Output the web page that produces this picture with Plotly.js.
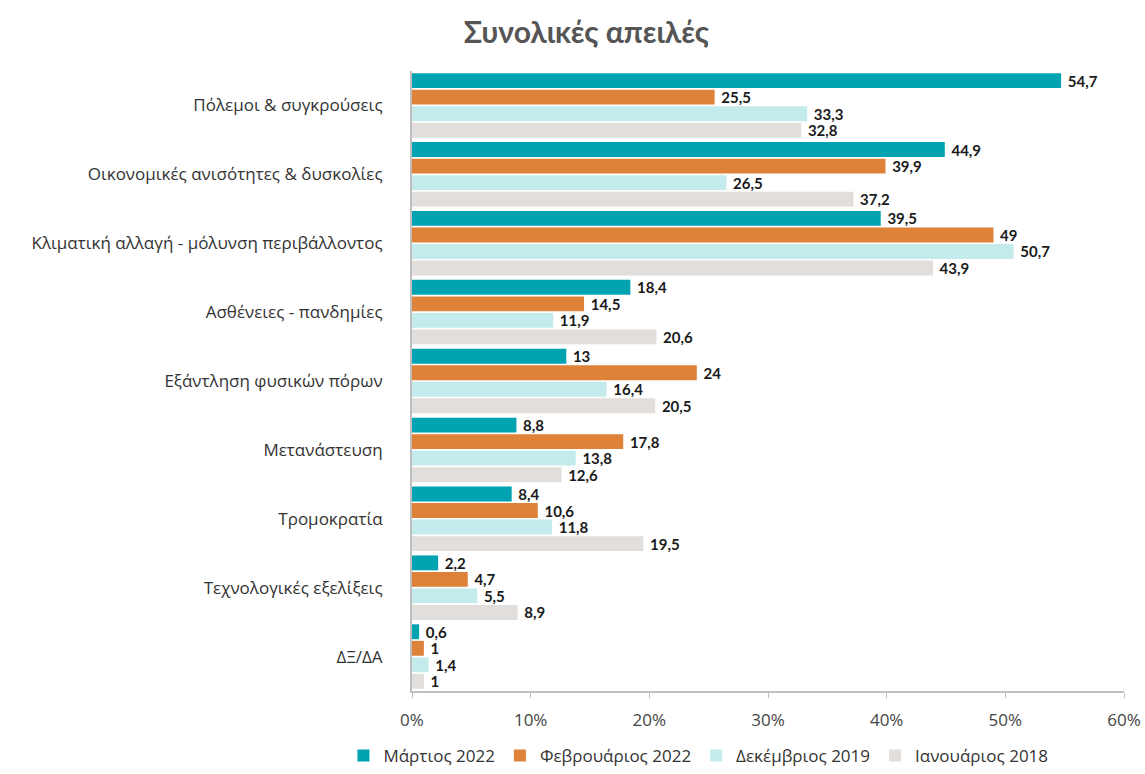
<!DOCTYPE html>
<html>
<head>
<meta charset="utf-8">
<script src="https://cdn.plot.ly/plotly-3.0.1.min.js"></script>
<style>html,body{margin:0;padding:0;background:#fff;}#chart{width:1145px;height:774px;}</style>
</head>
<body>
<div id="chart"></div>
<script>
const categories = [
  "Πόλεμοι & συγκρούσεις",
  "Οικονομικές ανισότητες & δυσκολίες",
  "Κλιματική αλλαγή - μόλυνση περιβάλλοντος",
  "Ασθένειες - πανδημίες",
  "Εξάντληση φυσικών πόρων",
  "Μετανάστευση",
  "Τρομοκρατία",
  "Τεχνολογικές εξελίξεις",
  "ΔΞ/ΔΑ"
];
const seriesNames = ["Μάρτιος 2022", "Φεβρουάριος 2022", "Δεκέμβριος 2019", "Ιανουάριος 2018"];
const march2022 = [54.7, 44.9, 39.5, 18.4, 13, 8.8, 8.4, 2.2, 0.6];
const feb2022 = [25.5, 39.9, 49, 14.5, 24, 17.8, 10.6, 4.7, 1];
const dec2019 = [33.3, 26.5, 50.7, 11.9, 16.4, 13.8, 11.8, 5.5, 1.4];
const jan2018 = [32.8, 37.2, 43.9, 20.6, 20.5, 12.6, 19.5, 8.9, 1];
const xTicks = [0, 10, 20, 30, 40, 50, 60];

const colors = ["#00A3AF", "#DE823A", "#C3EBEB", "#E2DEDB"];
const allSeries = [march2022, feb2022, dec2019, jan2018];

const traces = allSeries.map((vals, i) => ({
  type: "bar",
  orientation: "h",
  name: seriesNames[i],
  y: categories,
  x: vals,
  text: vals.map(v => "\u00a0" + String(v).replace(".", ",")),
  textposition: "outside",
  constraintext: "none",
  cliponaxis: false,
  textfont: {family: "Lato, sans-serif", size: 15, color: "#1a1a1a", weight: "bold"},
  marker: {color: colors[i]},
  hoverinfo: "x+name"
}));

const layout = {
  width: 1145,
  height: 774,
  paper_bgcolor: "#fff",
  plot_bgcolor: "#fff",
  margin: {l: 412, r: 21, t: 71, b: 83},
  barmode: "group",
  bargap: 0.04,
  bargroupgap: 0.1,
  separators: ", ",
  font: {family: "Open Sans, sans-serif", color: "#333"},
  title: {
    text: "<b>Συνολικές απειλές</b>",
    font: {family: "Lato, sans-serif", size: 30, color: "#555"},
    xref: "container", x: 0.512, xanchor: "center",
    yref: "container", y: 0.958, yanchor: "middle"
  },
  xaxis: {
    range: [0, 60],
    tickvals: xTicks,
    ticktext: xTicks.map(t => t + "%"),
    showgrid: false,
    zeroline: false,
    showline: true,
    linecolor: "#BFBFBF",
    linewidth: 2,
    ticks: "outside",
    ticklen: 5,
    tickcolor: "#BFBFBF",
    tickfont: {family: "Open Sans, sans-serif", size: 17, color: "#444"},
    ticklabelstandoff: 8
  },
  yaxis: {
    autorange: "reversed",
    showgrid: false,
    zeroline: false,
    showline: true,
    linecolor: "#BFBFBF",
    linewidth: 2,
    ticks: "",
    tickfont: {family: "Open Sans, sans-serif", size: 17, color: "#333"},
    ticklabelstandoff: 24
  },
  legend: {
    orientation: "h",
    xref: "container", x: 0.61, xanchor: "center",
    yref: "container", y: -0.005, yanchor: "bottom",
    font: {family: "Open Sans, sans-serif", size: 17, color: "#333"},
    traceorder: "normal"
  },
  showlegend: true
};

Plotly.newPlot("chart", traces, layout, {displayModeBar: false, responsive: false});
</script>
</body>
</html>
